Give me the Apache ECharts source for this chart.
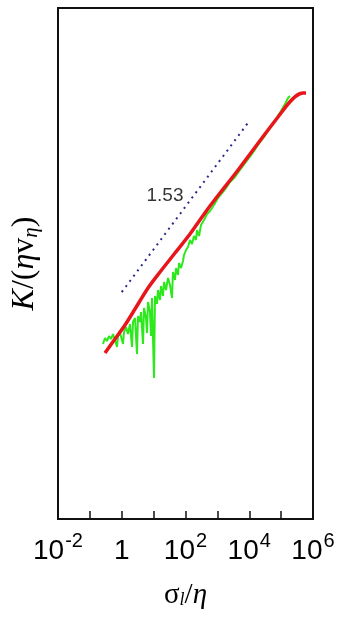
<!DOCTYPE html>
<html>
<head>
<meta charset="utf-8">
<script src="https://cdn.jsdelivr.net/npm/echarts@6/dist/echarts.min.js"></script>
<style>
html,body{margin:0;padding:0;background:#fff;}
#c{width:340px;height:622px;}
</style>
</head>
<body>
<div id="c"></div>
<script>
// log10(sigma_l/eta) and log10(K/(eta v_eta)) in arbitrary decades
var redX = [-0.526,-0.212,0.102,0.416,0.824,1.200,1.671,2.141,2.675,3.082,3.553,4.024,4.494,4.902,5.216,5.467,5.686,5.780];
var redY = [-0.056,0.445,0.947,1.520,2.272,2.845,3.525,4.206,5.065,5.674,6.355,7.071,7.788,8.396,8.862,9.149,9.256,9.256];

var greenX = [-0.588,-0.526,-0.463,-0.400,-0.337,-0.275,-0.212,-0.149,-0.118,-0.055,
  0.008,0.039,0.071,0.133,0.196,0.259,0.322,0.353,0.416,0.478,
  0.510,0.573,0.604,0.667,0.698,0.761,0.792,0.824,0.886,0.918,
  0.949,1.012,1.043,1.106,1.137,1.200,1.231,1.294,1.326,1.388,
  1.451,1.514,1.576,1.608,1.671,1.702,1.765,1.796,1.859,1.922,
  1.953,2.016,2.078,2.141,2.204,2.267,2.329,2.361,2.424,2.486,
  2.580,2.675,2.769,2.894,3.020,3.145,3.271,3.396,3.553,3.710,
  3.898,4.086,4.275,4.463,4.651,4.839,4.996,5.122,5.216,5.279];
var greenY = [0.266,0.481,0.373,0.552,0.445,0.624,0.409,0.159,0.552,0.660,
  0.409,0.266,0.696,0.875,0.624,0.982,0.159,1.054,1.197,-0.092,
  1.269,1.054,1.412,0.266,1.555,1.197,0.660,1.770,1.412,0.552,
  1.914,-0.952,1.985,1.699,2.200,1.842,2.343,1.985,2.487,2.200,
  2.630,2.379,1.914,2.845,2.558,2.988,2.737,3.167,2.988,3.239,
  3.454,3.633,3.740,3.991,3.848,4.134,3.991,4.349,4.134,4.528,
  4.707,4.922,5.030,5.245,5.495,5.674,5.853,6.068,6.247,6.498,
  6.785,7.071,7.394,7.680,8.002,8.325,8.611,8.862,9.077,9.149];

var slopeX = [0, 4];
var slopeY = [2.128, 8.248];
var slopeLabel = '1.53';
var slopeLabelX = [1.357];
var slopeLabelY = [5.567];

function zip(a, b) { return a.map(function (v, i) { return [v, b[i]]; }); }

var chart = echarts.init(document.getElementById('c'), null, {renderer: 'canvas'});
chart.setOption({
  animation: false,
  backgroundColor: '#ffffff',
  grid: {left: 58, top: 8, width: 255, height: 511, show: true, borderColor: '#111', borderWidth: 2, backgroundColor: 'transparent'},
  xAxis: {
    type: 'value', min: -2, max: 6, interval: 1,
    axisLine: {show: false, onZero: false},
    axisTick: {show: true, inside: true, length: 8, lineStyle: {color: '#111', width: 1.5}},
    splitLine: {show: false},
    axisLabel: {
      margin: 12,
      color: '#000',
      fontFamily: 'Liberation Sans',
      formatter: function (v) {
        if (v === 0) return '{b|1}';
        if (v % 2 !== 0) return '';
        return '{b|10}{s|' + v + '}';
      },
      rich: {
        b: {fontSize: 28, fontFamily: 'Liberation Sans', color: '#000', lineHeight: 34, verticalAlign: 'bottom'},
        s: {fontSize: 20, fontFamily: 'Liberation Sans', color: '#000', lineHeight: 34, verticalAlign: 'top', padding: [0, 0, 14, 1]}
      }
    },
    name: '{a|σ}{l|l}{a|/}{e|η}',
    nameLocation: 'middle',
    nameGap: 62,
    nameTextStyle: {
      rich: {
        a: {fontSize: 29, fontFamily: 'Liberation Serif', color: '#000'},
        l: {fontSize: 18, fontFamily: 'Liberation Serif', fontStyle: 'italic', color: '#000', padding: [10, 0, 0, 0]},
        e: {fontSize: 29, fontFamily: 'Liberation Serif', fontStyle: 'italic', color: '#000'}
      }
    }
  },
  yAxis: {
    type: 'value', min: -6, max: 12.3,
    axisLine: {show: false, onZero: false},
    axisTick: {show: false},
    axisLabel: {show: false},
    splitLine: {show: false},
    name: '{i|K}{a|/(}{i|η}{a|v}{s|η}{a|)}',
    nameLocation: 'middle',
    nameRotate: 90,
    nameGap: 16,
    nameTextStyle: {
      rich: {
        i: {fontSize: 32, fontFamily: 'Liberation Serif', fontStyle: 'italic', color: '#000'},
        a: {fontSize: 32, fontFamily: 'Liberation Serif', color: '#000'},
        s: {fontSize: 21, fontFamily: 'Liberation Serif', fontStyle: 'italic', color: '#000', padding: [14, 0, 0, 0]}
      }
    }
  },
  series: [
    {
      type: 'line', data: zip(greenX, greenY), showSymbol: false, symbol: 'none',
      lineStyle: {color: '#2ee81e', width: 2}, z: 2
    },
    {
      type: 'line', data: zip(redX, redY), showSymbol: false, symbol: 'none', smooth: 0.3,
      lineStyle: {color: '#e8161a', width: 3.5}, z: 3
    },
    {
      type: 'line', data: zip(slopeX, slopeY), showSymbol: false, symbol: 'none',
      lineStyle: {color: '#2a2a8c', width: 2, type: [2, 4.5], cap: 'butt'}, z: 4
    },
    {
      type: 'scatter', data: zip(slopeLabelX, slopeLabelY), symbolSize: 0,
      label: {show: true, position: 'inside', formatter: slopeLabel, fontSize: 19, fontFamily: 'Liberation Sans', color: '#000'},
      z: 5
    }
  ]
});
</script>
</body>
</html>
